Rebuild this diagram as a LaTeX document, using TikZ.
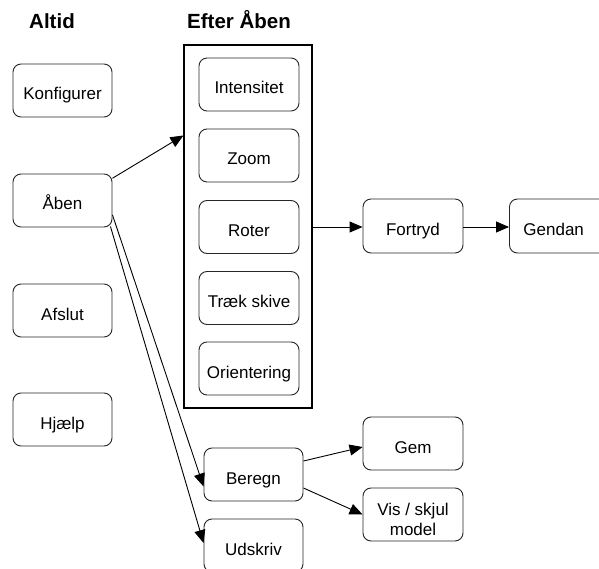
\documentclass[tikz,border=0pt]{standalone}
\usepackage{fontspec}
\setmainfont{Liberation Sans}
\usetikzlibrary{arrows.meta,calc}

\begin{document}
\begin{tikzpicture}[x=1pt,y=-1pt,
  box/.style={draw=black!85, line width=0.9pt, rounded corners=8pt,
    minimum width=99pt, minimum height=53pt, inner sep=0pt, align=center,
    text height=19pt, text depth=0pt,
    font=\fontsize{17pt}{20pt}\selectfont},
  head/.style={font=\fontsize{20.5pt}{24pt}\selectfont\bfseries, anchor=base, inner sep=0pt},
  frame/.style={draw=black, line width=1.1pt, minimum width=128pt, minimum height=363pt, inner sep=0pt},
  link/.style={draw=black, line width=0.9pt, -{Triangle[length=13pt,width=11pt]}}]

\useasboundingbox (0,0) rectangle (599,569);
\clip (0,0) rectangle (599,569);
\fill[white] (0,0) rectangle (599,569);

% column headings
\node[head] (altid) at (52,28.3) {Altid};
\node[head] (efter) at (239,28.3) {Efter Åben};

% commands that are always available
\node[box] (konf)   at (62.5,90.5)  {Konfigurer};
\node[box] (aaben)  at (62.5,200.5) {Åben};
\node[box] (afslut) at (62.5,310.5) {Afslut};
\node[box] (hjaelp) at (62.5,419.5) {Hjælp};

% group of commands available after opening
\node[frame] (group) at (248,226.5) {};
\node[box, minimum width=100pt] (intens) at (249,84.5)  {Intensitet};
\node[box, minimum width=100pt] (zoom)   at (249,155.5) {Zoom};
\node[box, minimum width=100pt] (roter)  at (249,227)   {Roter};
\node[box, minimum width=100pt] (traek)  at (249,298)   {Træk skive};
\node[box, minimum width=100pt] (orient) at (249,368.5) {Orientering};

% undo / redo chain
\node[box, minimum width=100pt, minimum height=54pt] (fortryd) at (413,226) {Fortryd};
\node[box, minimum height=54pt, text width=72pt, inner xsep=14pt, align=left, anchor=west] (gendan) at (509,226) {Gendan};

% compute and print
\node[box] (beregn)  at (253.5,474.5) {Beregn};
\node[box] (udskriv) at (253.5,545.5) {Udskriv};
\node[box, minimum width=100pt] (gem) at (413,443.5) {Gem};
\node[box, minimum width=100pt, text height=41pt] (vis) at (413,514.5) {Vis / skjul\\model};

% connectors
\draw[link] (aaben.24) -- ($(group.north west)+(0,91)$);
\draw[link] (aaben.-16) -- ($(beregn.west)+(0,12)$);
\draw[link] ($(aaben.south east)+(-2,-1)$) -- ($(udskriv.west)+(0,-2.5)$);
\draw[link] (group.east |- roter.center) -- (fortryd.west |- roter.center);
\draw[link] (fortryd.east |- roter.center) -- (gendan.west |- roter.center);
\draw[link] ($(beregn.east)+(0,-13.5)$) -- ($(gem.west)+(0,3.5)$);
\draw[link] ($(beregn.east)+(0,13.5)$) -- (vis.west);
\end{tikzpicture}
\end{document}
